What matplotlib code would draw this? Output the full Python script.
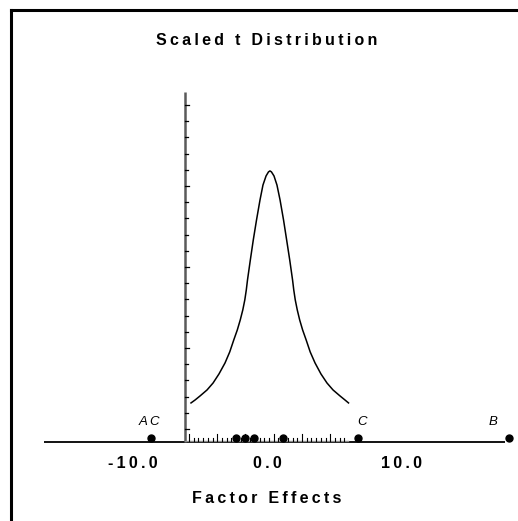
import matplotlib
matplotlib.use("Agg")
import matplotlib.pyplot as plt
import numpy as np
from matplotlib.lines import Line2D

# scaled t curve
curve_x = [-5.65, -5.35, -4.98, -4.46, -4.01, -3.57, -3.12, -2.77, -2.47, -2.21, -1.99,
           -1.80, -1.65, -1.54, -1.45, -1.24, -1.02, -0.78, -0.52, -0.30, -0.07, 0.11, 0.22,
           0.33, 0.52, 0.74, 0.97, 1.23, 1.46, 1.69, 1.90, 1.99, 2.10, 2.25, 2.43, 2.65,
           2.91, 3.21, 3.57, 4.01, 4.46, 4.91, 5.43, 5.80, 6.06]
curve_y = [2.41, 2.59, 2.84, 3.21, 3.64, 4.20, 4.88, 5.56, 6.30, 6.91, 7.53,
           8.15, 8.77, 9.38, 10.0, 11.23, 12.47, 13.70, 14.94, 15.86, 16.42, 16.67, 16.73,
           16.67, 16.42, 15.86, 14.94, 13.70, 12.47, 11.23, 10.0, 9.38, 8.77, 8.15, 7.53, 6.91,
           6.30, 5.56, 4.88, 4.20, 3.64, 3.21, 2.84, 2.59, 2.41]

# factor effects (dots on the axis)
effects = [-8.6, -2.3, -1.64, -0.97, 1.19, 6.8, 18.0]
effect_labels = {"A C": -8.75, "C": 7.1, "B": 16.8}

xtick_vals = [-10.0, 0.0, 10.0]
xtick_text = ["-10.0", "0.0", "10.0"]


def spaced(s):
    # wide letter spacing like the original
    return "\u2009".join(s)


fig = plt.figure(figsize=(5.18, 5.21), dpi=100)
ax = fig.add_axes([0, 0, 1, 1])
ax.set_xlim(-19.85, 18.66)
ax.set_ylim(-4.877, 27.28)
ax.axis("off")

fam = ["Liberation Sans", "DejaVu Sans"]

# outer frame (left and top only)
fig.add_artist(Line2D([11 / 518, 11 / 518], [0, 1 - 10 / 521], color="black", lw=2.2))
fig.add_artist(Line2D([11 / 518, 1], [1 - 10 / 521, 1 - 10 / 521], color="black", lw=2.2))

# main x axis line
ax.plot([-16.6, 17.7], [0, 0], color="black", lw=1.3, solid_capstyle="butt")

# inner vertical axis with ticks
vx = -6.1
ax.plot([vx, vx], [0, 21.6], color="#5a5a5a", lw=1.8, solid_capstyle="butt")
ax.plot([vx, 6.0], [0.05, 0.05], color="#8a8a8a", lw=1.0)
ytk = [0.8 + k for k in range(21)]
for i, yy in enumerate(ytk):
    ln = 0.33 if i % 5 == 0 else 0.25
    ax.plot([vx, vx + ln], [yy, yy], color="black", lw=0.9)

# rug ticks along the bottom of the inner plot
rug = np.arange(-5.8, 6.0, 0.35)
for i, rx in enumerate(rug):
    h = 0.42 if i % 6 == 0 else 0.22
    ax.plot([rx, rx], [0.05, 0.05 + h], color="black", lw=0.8)

# t curve
ax.plot(curve_x, curve_y, color="black", lw=1.1, solid_joinstyle="round")

# effect points
ax.plot(effects, [0.25] * len(effects), "o", color="black", ms=5, zorder=5)
for lab, lx in effect_labels.items():
    ax.text(lx, 1.23, lab, ha="center", va="center", fontsize=9.5, style="italic", family=fam)

for v, t in zip(xtick_vals, xtick_text):
    ax.text(v, -1.3, spaced(t), ha="center", va="center", fontsize=11.5, fontweight="bold", family=fam)

ax.text(0, 24.8, spaced("Scaled t Distribution"), ha="center", va="center", fontsize=11.5,
        fontweight="bold", family=fam)
ax.text(0, -3.46, spaced("Factor Effects"), ha="center", va="center", fontsize=11.5,
        fontweight="bold", family=fam)

fig.savefig("out.png", dpi=100)
